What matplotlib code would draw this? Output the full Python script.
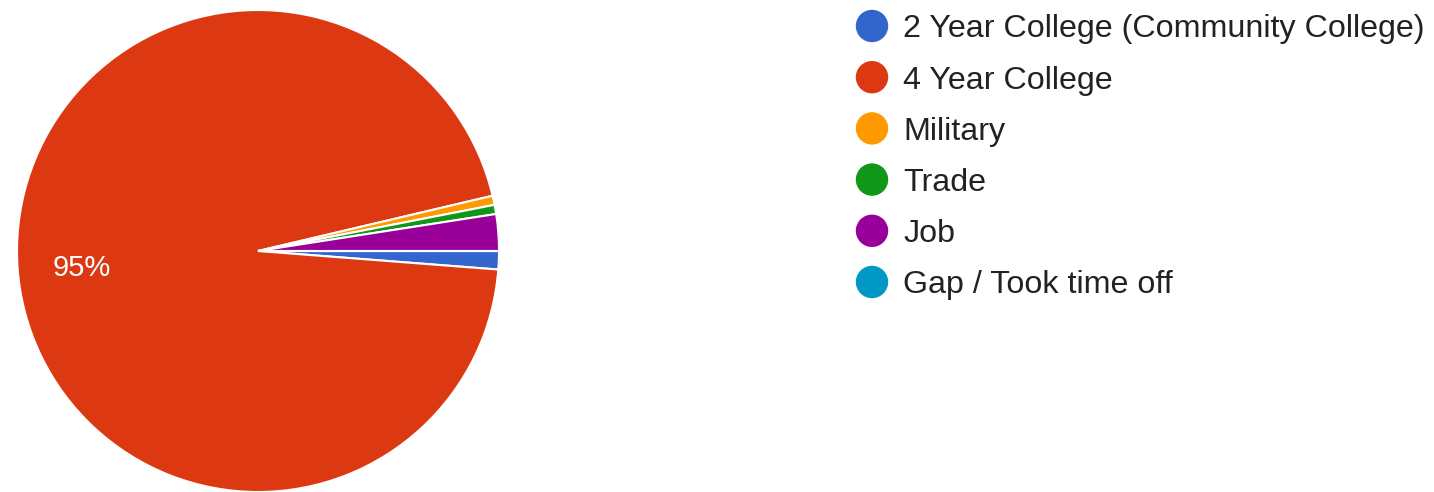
import matplotlib.pyplot as plt
from matplotlib.patches import Circle

plt.rcParams['font.family'] = ['Liberation Sans', 'DejaVu Sans']

# survey answers: plans after graduation
labels = ["2 Year College (Community College)", "4 Year College", "Military",
          "Trade", "Job", "Gap / Took time off"]
counts = [2, 155, 1, 1, 4, 0]
colors = ["#3366cc", "#dc3912", "#ff9900", "#109618", "#990099", "#0099c6"]

W, H = 1434, 492
fig = plt.figure(figsize=(W / 100, H / 100), dpi=100)

# pie: center (258, 251) px, radius 241 px
ax = fig.add_axes([17 / W, 0, 482 / W, 482 / H])


def pct_label(p):
    return "%d%%" % round(p) if p > 5 else ""


wedges, texts, autotexts = ax.pie(
    counts, colors=colors, startangle=0, counterclock=False,
    autopct=pct_label, pctdistance=0.735,
    wedgeprops=dict(edgecolor="white", linewidth=1.5),
    textprops=dict(color="white", fontsize=21))
for t in autotexts:
    t.set_va("center_baseline")
ax.set_xlim(-1.0, 1.0)
ax.set_ylim(-1.0, 1.0)
ax.set_aspect("equal")
ax.axis("off")

# legend drawn by hand so spacing follows the forms layout
lax = fig.add_axes([0, 0, 1, 1])
lax.set_xlim(0, W)
lax.set_ylim(H, 0)
lax.axis("off")
y0, step = 26, 51.2
for i, (lab, col) in enumerate(zip(labels, colors)):
    y = y0 + i * step
    lax.add_patch(Circle((872, y), 15.5, color=col))
    lax.text(903, y + 11.5, lab, fontsize=23.2, color="#222222",
             va="baseline", ha="left")

fig.savefig("out.png", dpi=100)
